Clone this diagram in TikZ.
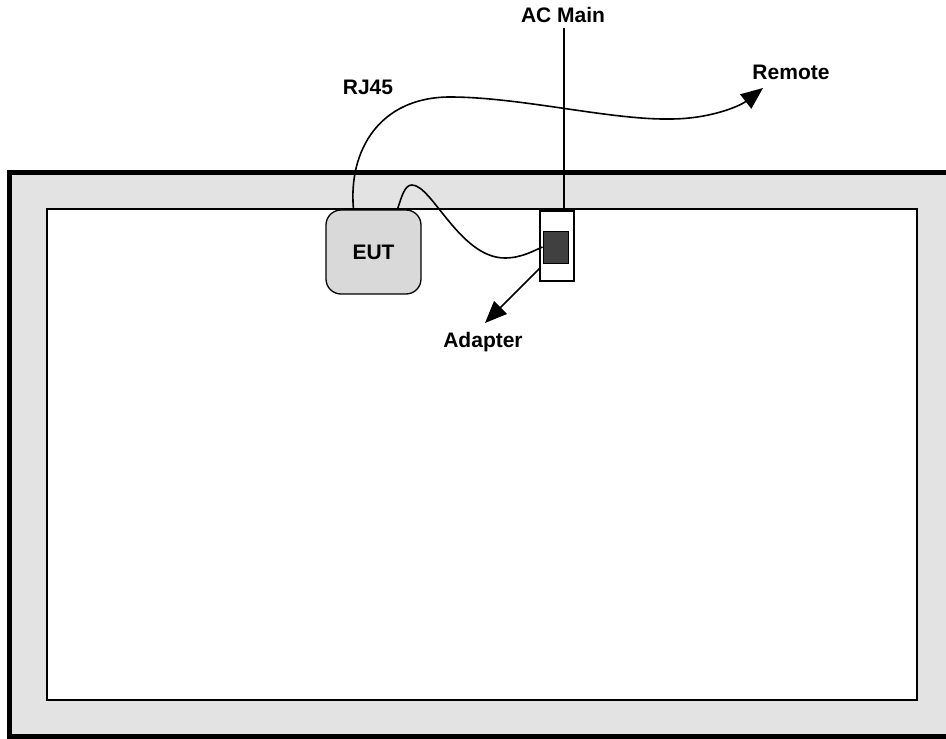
\documentclass[tikz,border=0pt]{standalone}
\usepackage{fontspec}
\setmainfont{Liberation Sans}
\usepackage{tikz}
\usetikzlibrary{arrows.meta, positioning, calc}
\definecolor{roomfill}{RGB}{227,227,227}
\definecolor{eutfill}{RGB}{217,217,217}
\definecolor{plugfill}{RGB}{64,64,64}
\tikzset{
  roomwall/.style={draw=black, line width=5pt, fill=roomfill},
  tablebox/.style={draw=black, line width=1.6pt, fill=white},
  eutbox/.style={
    rectangle, rounded corners=15pt,
    fill=eutfill, draw=black, line width=1.3pt,
    minimum width=95pt, minimum height=84pt,
    font=\fontsize{21}{25}\selectfont\bfseries},
  outletbox/.style={
    rectangle, fill=white, draw=black, line width=1.3pt,
    minimum width=34pt, minimum height=70pt, inner sep=0pt},
  plugbox/.style={
    rectangle, fill=plugfill, draw=black, line width=1pt,
    minimum width=25pt, minimum height=32pt, inner sep=0pt},
  label/.style={font=\fontsize{21}{25}\selectfont\bfseries, inner sep=0pt},
  cable/.style={line width=1.6pt},
  arrow/.style={-{Triangle[length=22pt, width=18pt]}, line width=1.6pt}
}
\begin{document}
\begin{tikzpicture}[x=1pt, y=-1pt]

  \useasboundingbox (0,0) rectangle (946,739);
  \clip (0,0) rectangle (946,739);

  %% Room and table
  \draw[roomwall] (9,172) rectangle (960,736);
  \draw[tablebox] (47,209) rectangle (917,700);

  %% Equipment
  \node[eutbox] (eut) at (373.5,252) {EUT};
  \node[outletbox] (outlet) at (557,246) {};
  \node[plugbox] (plug) at (555.5,247) {};

  %% Labels
  \node[label] (acmain) at (563,15) {AC Main};
  \node[label] (rjlabel) at (368,87) {RJ45};
  \node[label] (remote) at (791,72) {Remote};
  \node[label] (adapter) at (483,342) {Adapter};

  \coordinate (remoteend) at (763,88);
  \coordinate (adapterend) at (485,323);

  %% Cables
  \draw[cable, line width=1.2pt] (acmain.south) ++(1,5) coordinate (acin)
    -- (acin |- outlet.north);
  \draw[arrow] ([xshift=-20pt]eut.north)
    .. controls (348,150) and (380,97) .. (450,97)
    .. controls (520,97) and (610,120) .. (670,119)
    .. controls (710,119) and (740,106) .. (remoteend);
  \draw[cable] ([xshift=24pt]eut.north)
    .. controls (402,195) and (405,185) .. (412,185)
    .. controls (432,185) and (460,258) .. (505,258)
    .. controls (522,258) and (535,250) .. (plug.west);
  \draw[arrow] ([yshift=13pt]outlet.south west) -- (adapterend);

\end{tikzpicture}
\end{document}
